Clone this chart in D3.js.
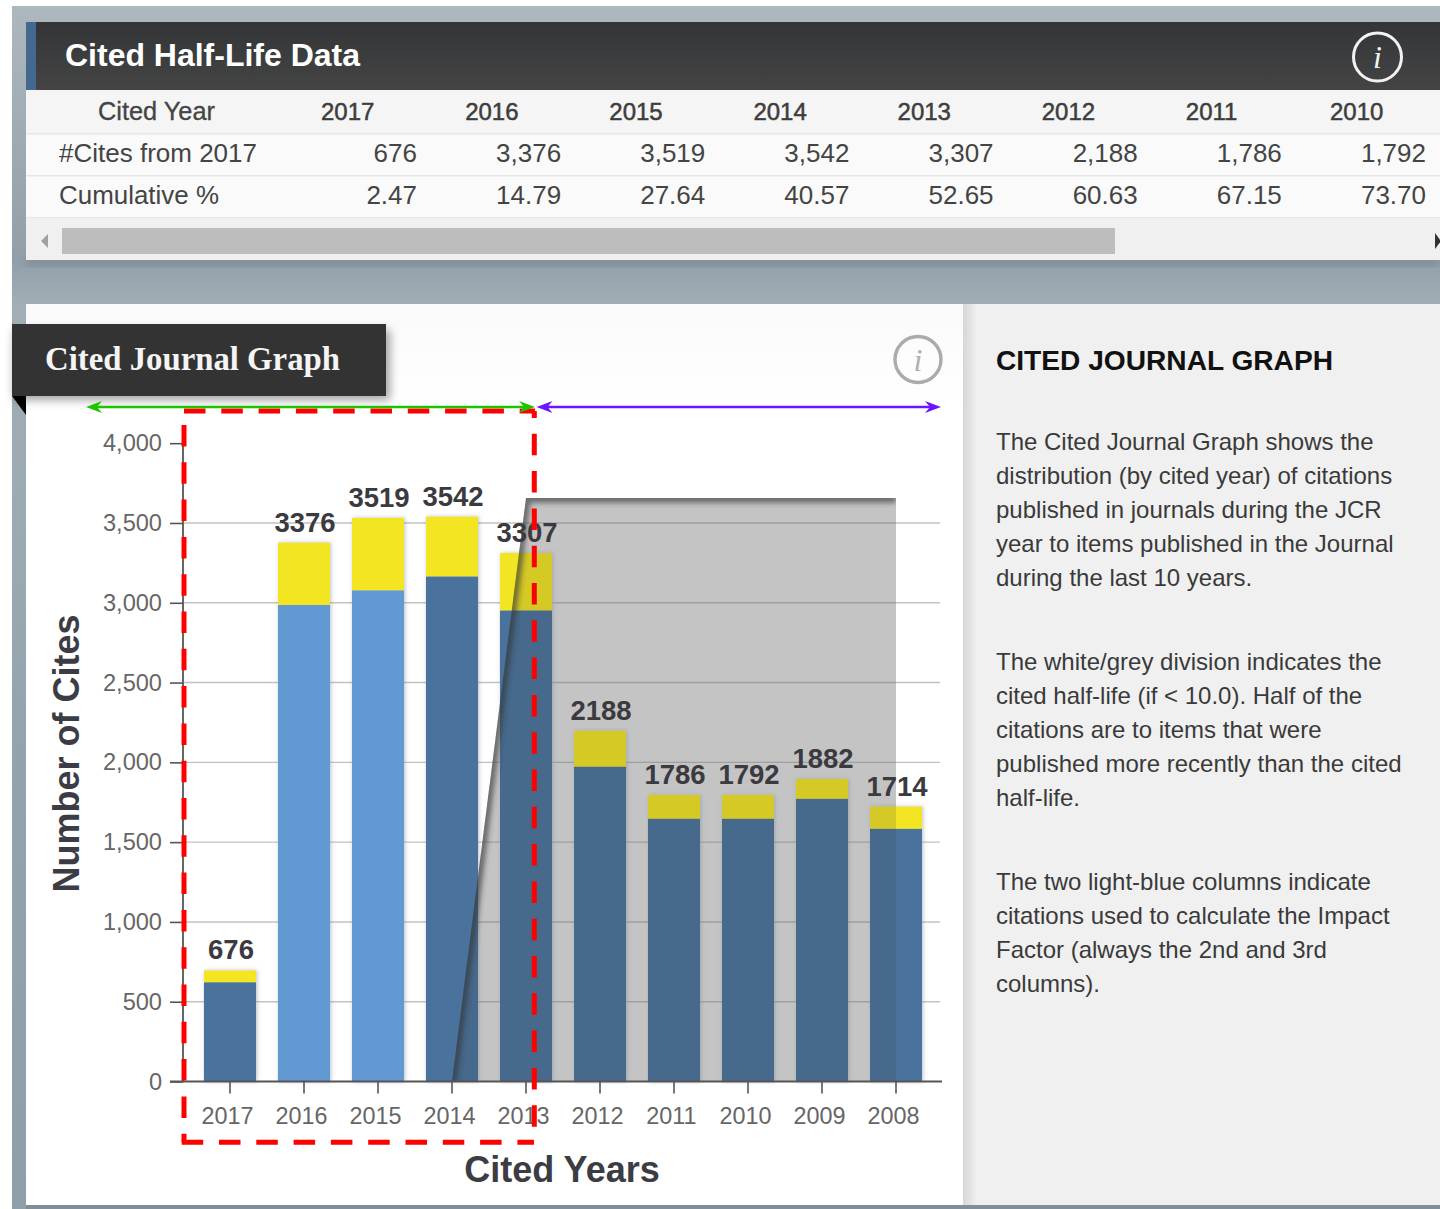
<!DOCTYPE html>
<html><head><meta charset="utf-8">
<script src="https://cdn.jsdelivr.net/npm/d3@7/dist/d3.min.js"></script>
<style>html,body{margin:0;padding:0;background:#fff;overflow:hidden}svg{display:block}text{font-family:"Liberation Sans",Arial,sans-serif}</style>
</head><body><svg id="c" width="1440" height="1209"></svg>
<script>
// ---- data ----
const tableYears = ["2017","2016","2015","2014","2013","2012","2011","2010"];
const tableCites = ["676","3,376","3,519","3,542","3,307","2,188","1,786","1,792"];
const tableCumulative = ["2.47","14.79","27.64","40.57","52.65","60.63","67.15","73.70"];
const years = ["2017","2016","2015","2014","2013","2012","2011","2010","2009","2008"];
const barLabels = [676,3376,3519,3542,3307,2188,1786,1792,1882,1714];
const lowerSegment = [621,2986,3077,3164,2951,1972,1646,1646,1771,1583];
const upperSegment = [75,391,455,376,361,226,150,150,125,140];
const impactYears = ["2016","2015"];
const yTicks = [0,500,1000,1500,2000,2500,3000,3500,4000];
const gridTicks = [500,1000,1500,2000,2500,3000,3500];
const halfLifeIdx = [3,4,9];
const halfLifeVal = [0,3657,3657];
const sideTitle = "CITED JOURNAL GRAPH";
const sideLines = [
 ["The Cited Journal Graph shows the","distribution (by cited year) of citations","published in journals during the JCR","year to items published in the Journal","during the last 10 years."],
 ["The white/grey division indicates the","cited half-life (if < 10.0). Half of the","citations are to items that were","published more recently than the cited","half-life."],
 ["The two light-blue columns indicate","citations used to calculate the Impact","Factor (always the 2nd and 3rd","columns)."]
];

const svg = d3.select("#c");
const defs = svg.append("defs");
function grad(id,stops,x2,y2){const g=defs.append("linearGradient").attr("id",id).attr("x1",0).attr("y1",0).attr("x2",x2).attr("y2",y2);
 stops.forEach(s=>g.append("stop").attr("offset",s[0]).attr("stop-color",s[1]));}
grad("bgV",[[0,"#adb8be"],[.21,"#929fa8"],[.25,"#a3afb7"],[.6,"#94a4ae"],[1,"#8f9fa9"]],0,1);
grad("hdr",[[0,"#333537"],[1,"#444444"]],0,1);
grad("sideShade",[[0,"#d6d6d6"],[1,"#f0f0f0"]],1,0);
grad("topShade",[[0,"#fafafa"],[1,"#ffffff"]],0,1);
const blur=(id,s)=>defs.append("filter").attr("id",id).attr("x","-20%").attr("y","-20%").attr("width","140%").attr("height","140%").append("feGaussianBlur").attr("stdDeviation",s);
blur("b1",1.5);blur("b2",2.5);blur("b4",5);
const sh=defs.append("filter").attr("id","barShadow").attr("x","-20%").attr("y","-5%").attr("width","140%").attr("height","110%");
sh.append("feDropShadow").attr("dx",1).attr("dy",0).attr("stdDeviation",2).attr("flood-color","#7f8ea0").attr("flood-opacity",.55);

const rect=(g,x,y,w,h,f)=>g.append("rect").attr("x",x).attr("y",y).attr("width",w).attr("height",h).attr("fill",f);
const txt=(g,x,y,s,size,fill,opt={})=>{const t=g.append("text").attr("x",x).attr("y",y).attr("font-size",size).attr("fill",fill).text(s);
 if(opt.anchor)t.attr("text-anchor",opt.anchor);if(opt.weight)t.attr("font-weight",opt.weight);if(opt.family)t.style("font-family",opt.family);
 if(opt.style)t.attr("font-style",opt.style);if(opt.stroke)t.attr("stroke",fill).attr("stroke-width",opt.stroke);if(opt.len)t.attr("textLength",opt.len).attr("lengthAdjust","spacingAndGlyphs");return t;};

// ---- page background ----
rect(svg,12,6,1428,1203,"url(#bgV)");

// ---- top card ----
const card=svg.append("g");
rect(card,26,258,1414,8,"#6f7c85").attr("filter","url(#b4)").attr("opacity",.6);
rect(card,26,90,1414,170,"#fafafa");
rect(card,26,22,1414,68,"url(#hdr)");
rect(card,26,22,10,68,"#44688f");
txt(card,65,66,"Cited Half-Life Data",32,"#fff",{weight:"bold",len:295});
card.append("circle").attr("cx",1377.5).attr("cy",57).attr("r",24).attr("fill","none").attr("stroke","#f2f2f2").attr("stroke-width",3);
txt(card,1377.5,68,"i",32,"#f2f2f2",{anchor:"middle",style:"italic",family:"'Liberation Serif',serif"});
rect(card,26,90,1414,43,"#f5f5f5");
[133,175,217].forEach(y=>rect(card,26,y,1414,1.5,"#e6e6e6"));
rect(card,26,218,1414,42,"#f0f0f0");
rect(card,62,228,1053,26,"#bdbdbd");
card.append("path").attr("d",d3.line()([[48,234],[48,248],[41,241]])+"Z").attr("fill","#a0a0a0");
card.append("path").attr("d",d3.line()([[1435,233],[1435,249],[1441,241]])+"Z").attr("fill","#333");
const colRight=d3.scalePoint().domain(tableYears).range([417,1426]);
txt(card,98,120,"Cited Year",25,"#444",{len:117,stroke:.3});
txt(card,59,162,"#Cites from 2017",26,"#444",{len:198});
txt(card,59,204,"Cumulative %",26,"#444",{len:160});
card.selectAll(".hy").data(tableYears).join("text").attr("x",d=>colRight(d)-96).attr("y",120).attr("font-size",24).attr("fill","#3d3d3d").attr("stroke","#3d3d3d").attr("stroke-width",.5).text(d=>d);
card.selectAll(".c1").data(tableCites).join("text").attr("x",(d,i)=>colRight(tableYears[i])).attr("y",162).attr("text-anchor","end").attr("font-size",26).attr("fill","#444").text(d=>d);
card.selectAll(".c2").data(tableCumulative).join("text").attr("x",(d,i)=>colRight(tableYears[i])).attr("y",204).attr("text-anchor","end").attr("font-size",26).attr("fill","#444").text(d=>d);

// ---- lower panels ----
rect(svg,26,304,937,901,"#ffffff");
rect(svg,26,304,937,100,"url(#topShade)");
rect(svg,963,304,477,901,"#f0f0f0");
rect(svg,963,304,14,901,"url(#sideShade)");
rect(svg,26,1205,1414,4,"#7f8e98");

// ---- scales ----
const x=d3.scaleBand().domain(years).range([193,933]).paddingInner(.297).paddingOuter(.1485);
const y=d3.scaleLinear().domain([0,4000]).range([1081.5,443.2]);
const cx=d=>x(d)+x.bandwidth()/2;
const px=i=>cx(years[i]);
const stack=d3.stack().keys(["lower","upper"])(years.map((d,i)=>({year:d,lower:lowerSegment[i],upper:upperSegment[i]})));

const chart=svg.append("g");
const halfPts=[[0,0]].concat(halfLifeIdx.map((d,i)=>[d,halfLifeVal[i]]));
const area=d3.line().x(d=>px(d[0])).y(d=>y(d[1]));
const polyD=area(halfPts.slice(1).concat([[9,0]]))+"Z";

// half-life grey area
chart.append("path").attr("d",polyD).attr("fill","#c4c4c4");
// grid
chart.selectAll(".grid").data(gridTicks).join("line").attr("x1",183).attr("x2",940).attr("y1",d=>y(d)).attr("y2",d=>y(d)).attr("stroke","#6e6e6e").attr("stroke-opacity",.42).attr("stroke-width",1.4);

// bars
const clip=defs.append("clipPath").attr("id","barsClip");
years.forEach((d,i)=>clip.append("rect").attr("x",x(d)).attr("width",x.bandwidth()).attr("y",y(stack[1][i][1])).attr("height",y(0)-y(stack[1][i][1])));
const polyClip=defs.append("clipPath").attr("id","polyClip");polyClip.append("path").attr("d",polyD);

const bars=chart.append("g").attr("filter","url(#barShadow)");
bars.selectAll(".u").data(years).join("rect").attr("x",d=>x(d)).attr("width",x.bandwidth())
 .attr("y",(d,i)=>y(stack[1][i][1])).attr("height",(d,i)=>y(stack[1][i][0])-y(stack[1][i][1])).attr("fill","#f3e520");
bars.selectAll(".l").data(years).join("rect").attr("x",d=>x(d)).attr("width",x.bandwidth())
 .attr("y",(d,i)=>y(stack[0][i][1])).attr("height",(d,i)=>y(0)-y(stack[0][i][1])).attr("fill",d=>impactYears.includes(d)?"#6299d2":"#4a739c");

// grey overlay on bars
chart.append("g").attr("clip-path","url(#barsClip)").append("path").attr("d",polyD).attr("fill","#3a3a3a").attr("fill-opacity",.16);
// half-life edge shadow
chart.append("g").attr("clip-path","url(#polyClip)").append("path").attr("d",area(halfPts.slice(1)))
 .attr("fill","none").attr("stroke","#333").attr("stroke-width",10).attr("stroke-opacity",.6).attr("filter","url(#b2)");
chart.append("path").attr("d",area(halfPts.slice(0,2))).attr("fill","none").attr("stroke","#444").attr("stroke-width",3).attr("filter","url(#b1)");

// axes
const yAxis=chart.append("g").attr("transform","translate(183,0)").call(d3.axisLeft(y).tickValues(yTicks).tickFormat(d3.format(",")).tickSize(13).tickPadding(8));
yAxis.select(".domain").attr("stroke","#666").attr("stroke-width",2).attr("d",`M0,${y(4000)}V${y(0)}`);
yAxis.selectAll(".tick line").attr("stroke","#555").attr("stroke-width",1.6);
yAxis.selectAll(".tick text").attr("font-size",23.6).attr("fill","#666").style("font-family","'Liberation Sans',sans-serif");
const xAxis=chart.append("g").attr("transform",`translate(0,${y(0)})`).call(d3.axisBottom(x).tickSize(12).tickPadding(14));
xAxis.select(".domain").attr("stroke","#555").attr("stroke-width",2).attr("d","M170,0H942");
xAxis.selectAll(".tick line").attr("stroke","#555").attr("stroke-width",1.6);
xAxis.selectAll(".tick text").attr("font-size",23.4).attr("fill","#666").attr("dx",-2.6).style("font-family","'Liberation Sans',sans-serif");

// value labels
chart.selectAll(".vl").data(barLabels).join("text").attr("x",(d,i)=>px(i)+1).attr("y",(d,i)=>y(stack[1][i][1])-11)
 .attr("text-anchor","middle").attr("font-size",27.5).attr("font-weight","bold").attr("fill","#3a3a40").text(d=>d);

// axis titles
txt(chart,562,1182,"Cited Years",36,"#3c3c44",{anchor:"middle",weight:"bold"});
txt(chart,0,0,"Number of Cites",36,"#3c3c44",{anchor:"middle",weight:"bold"}).attr("transform","translate(79,753.5) rotate(-90)");

// tab + icon
const tabG=svg.append("g");
rect(tabG,14,330,376,70,"#555").attr("filter","url(#b4)").attr("opacity",.55);
tabG.append("path").attr("d",d3.line()([[12,396],[26,396],[26,415]])+"Z").attr("fill","#000");
rect(tabG,12,324,374,72,"#333333");
txt(tabG,45,370,"Cited Journal Graph",33,"#f5f5f5",{weight:"bold",family:"'Liberation Serif',serif",len:295});
tabG.append("circle").attr("cx",918).attr("cy",359.5).attr("r",23).attr("fill","none").attr("stroke","#ababab").attr("stroke-width",3.4);
txt(tabG,918,371,"i",32,"#b0b0b0",{anchor:"middle",style:"italic",family:"'Liberation Serif',serif"});

// side text
const side=svg.append("g");
txt(side,996,370,sideTitle,27,"#111",{weight:"bold",len:337});
const paraTop=[450,670,890];
sideLines.forEach((lines,p)=>lines.forEach((l,i)=>txt(side,996,paraTop[p]+i*34,l,24,"#3a3a3a")));

// red dashed selection box
const red=svg.append("g").attr("stroke","#ff0000").attr("stroke-width",5).attr("stroke-dasharray","21.5 15.8").attr("fill","none");
red.append("line").attr("x1",184).attr("y1",425).attr("x2",184).attr("y2",1142);
red.append("line").attr("x1",184).attr("y1",411).attr("x2",535).attr("y2",411);
red.append("line").attr("x1",181.7).attr("y1",1142.3).attr("x2",534).attr("y2",1142.3);
red.append("line").attr("x1",534.3).attr("y1",411).attr("x2",534.3).attr("y2",1128).attr("stroke-dashoffset",14.5);

// arrows
function arrow(x1,x2,c){
 const g=svg.append("g");
 g.append("line").attr("x1",x1+6).attr("x2",x2-6).attr("y1",407).attr("y2",407).attr("stroke",c).attr("stroke-width",2.4);
 const head=(t,s)=>g.append("path").attr("d",d3.line()([[t,407],[t+s*16,401],[t+s*11,407],[t+s*16,413]])+"Z").attr("fill",c);
 head(x1,1);head(x2,-1);
}
arrow(86,535,"#1fc400");
arrow(536.5,941,"#6a14ff");
</script></body></html>
